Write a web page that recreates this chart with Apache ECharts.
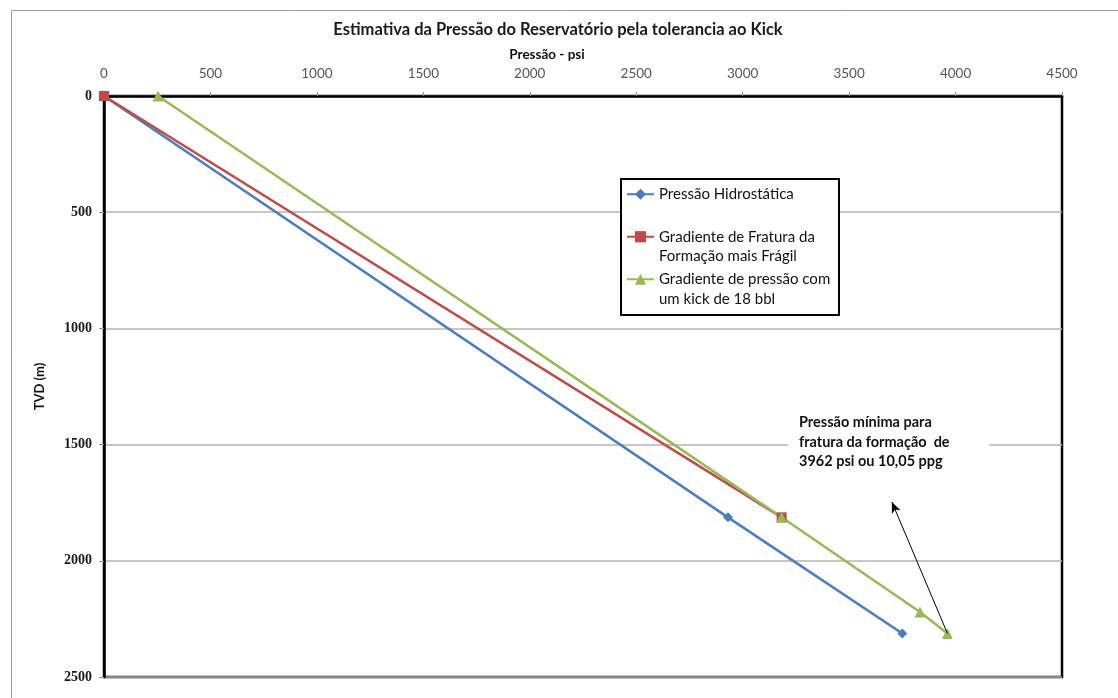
<!DOCTYPE html>
<html>
<head>
<meta charset="utf-8">
<script src="https://cdn.jsdelivr.net/npm/echarts@6/dist/echarts.min.js"></script>
<style>
  html, body { margin: 0; padding: 0; background: #ffffff; }
  #chart { width: 1118px; height: 698px; }
</style>
</head>
<body>
<div id="chart"></div>
<script>
// Pressure (psi) against true vertical depth (m) for each profile
const hidroPressure = [0, 2931, 3750];
const hidroDepth = [0, 1813, 2313];

const fraturaPressure = [0, 3183];
const fraturaDepth = [0, 1813];

const kickPressure = [254, 3183, 3833, 3962];
const kickDepth = [0, 1813, 2220, 2313];

// Arrow pointing from the last kick point to the note
const arrowFrom = [3962, 2313];
const arrowTo = [3701, 1747];

const seriesNames = [
  'Pressão Hidrostática',
  'Gradiente de Fratura da\nFormação mais Frágil',
  'Gradiente de pressão com\num kick de 18 bbl'
];
const noteLines = [
  'Pressão mínima para',
  'fratura da formação  de',
  '3962 psi ou 10,05 ppg'
];
const chartTitle = 'Estimativa da Pressão do Reservatório pela tolerancia ao Kick';
const xAxisName = 'Pressão - psi';
const yAxisName = 'TVD (m)';

const pairs = (xs, ys) => xs.map((x, i) => [x, ys[i]]);

const FONT = 'Lato, "Open Sans", sans-serif';

const chart = echarts.init(document.getElementById('chart'), null, { renderer: 'canvas' });

chart.setOption({
  animation: false,
  backgroundColor: '#ffffff',
  title: {
    text: chartTitle,
    left: 558,
    top: 21,
    textAlign: 'center',
    padding: 0,
    textStyle: { fontFamily: FONT, fontSize: 16.5, fontWeight: 'bold', color: '#1a1a1a' }
  },
  grid: {
    left: 104, right: 56, top: 96, bottom: 21,
    show: true,
    borderColor: '#000000',
    borderWidth: 2.5,
    backgroundColor: 'transparent'
  },
  legend: {
    orient: 'vertical',
    left: 626,
    top: 165,
    padding: 0,
    itemGap: -16,
    itemWidth: 27,
    itemHeight: 14,
    selectedMode: false,
    // the first text line of every entry sits level with its symbol
    formatter: (name) => (name.indexOf('\n') < 0 ? ' \n' + name + '\n ' : ' \n' + name),
    textStyle: { fontFamily: FONT, fontSize: 15, color: '#111111', lineHeight: 19.5 },
    data: seriesNames
  },
  xAxis: {
    type: 'value',
    position: 'top',
    min: 0, max: 4500, interval: 500,
    name: xAxisName,
    nameLocation: 'middle',
    nameGap: 34,
    nameMoveOverlap: false,
    nameTextStyle: {
      fontFamily: FONT, fontSize: 13.5, fontWeight: 'bold', color: '#111111',
      padding: [0, 72, 0, 0]
    },
    axisLine: { show: true, lineStyle: { color: '#000000', width: 2.5 } },
    axisTick: { show: true, length: 4, lineStyle: { color: '#8c8c8c', width: 1 } },
    axisLabel: {
      fontFamily: FONT, fontSize: 13.5, color: '#555555', margin: 15,
      formatter: (v) => String(v)
    },
    splitLine: { show: false }
  },
  yAxis: {
    type: 'value',
    inverse: true,
    min: 0, max: 2500, interval: 500,
    name: yAxisName,
    nameLocation: 'middle',
    nameGap: 58,
    nameRotate: 90,
    nameTextStyle: { fontFamily: FONT, fontSize: 13, fontWeight: 'bold', color: '#111111' },
    axisLine: { show: true, lineStyle: { color: '#000000', width: 2.5 } },
    axisTick: { show: true, length: 5, lineStyle: { color: '#8c8c8c', width: 1 } },
    axisLabel: {
      fontFamily: '"Liberation Serif", serif', fontSize: 14, fontWeight: 'bold',
      color: '#1a1a1a', margin: 12,
      formatter: (v) => String(v)
    },
    splitLine: { show: true, lineStyle: { color: '#b3b3b3', width: 1.5 } }
  },
  series: [
    {
      name: seriesNames[0],
      type: 'line',
      data: pairs(hidroPressure, hidroDepth),
      clip: false,
      symbol: 'diamond',
      symbolSize: 10,
      itemStyle: { color: '#4a7ebb' },
      lineStyle: { color: '#4a7ebb', width: 2.5 }
    },
    {
      name: seriesNames[1],
      type: 'line',
      data: pairs(fraturaPressure, fraturaDepth),
      clip: false,
      symbol: 'rect',
      symbolSize: 10,
      itemStyle: { color: '#be4b48' },
      lineStyle: { color: '#be4b48', width: 2.5 }
    },
    {
      name: seriesNames[2],
      type: 'line',
      data: pairs(kickPressure, kickDepth),
      clip: false,
      symbol: 'triangle',
      symbolSize: 11,
      itemStyle: { color: '#98b954' },
      lineStyle: { color: '#98b954', width: 2.5 },
      markLine: {
        silent: true,
        symbol: ['none', 'arrow'],
        symbolSize: [7, 11],
        lineStyle: { color: '#000000', width: 1, type: 'solid' },
        label: { show: false },
        data: [[{ coord: arrowFrom }, { coord: arrowTo }]]
      }
    }
  ],
  graphic: [
    {
      type: 'rect',
      left: 9, top: 8,
      shape: { width: 1130, height: 710 },
      style: { fill: 'none', stroke: '#9a9a9a', lineWidth: 1 },
      silent: true,
      z: -10
    },
    {
      // frame behind the legend entries
      type: 'rect',
      left: 620, top: 178,
      shape: { width: 218, height: 136 },
      style: { fill: '#ffffff', stroke: '#000000', lineWidth: 2 },
      silent: true,
      z: 3
    },
    {
      type: 'text',
      left: 788,
      top: 410,
      z: 10,
      style: {
        text: noteLines.join('\n'),
        fontFamily: FONT,
        fontSize: 14.5,
        fontWeight: 'bold',
        lineHeight: 19.5,
        fill: '#111111',
        backgroundColor: '#ffffff',
        padding: [3, 8, 4, 11],
        width: 182
      }
    }
  ]
});
</script>
</body>
</html>
